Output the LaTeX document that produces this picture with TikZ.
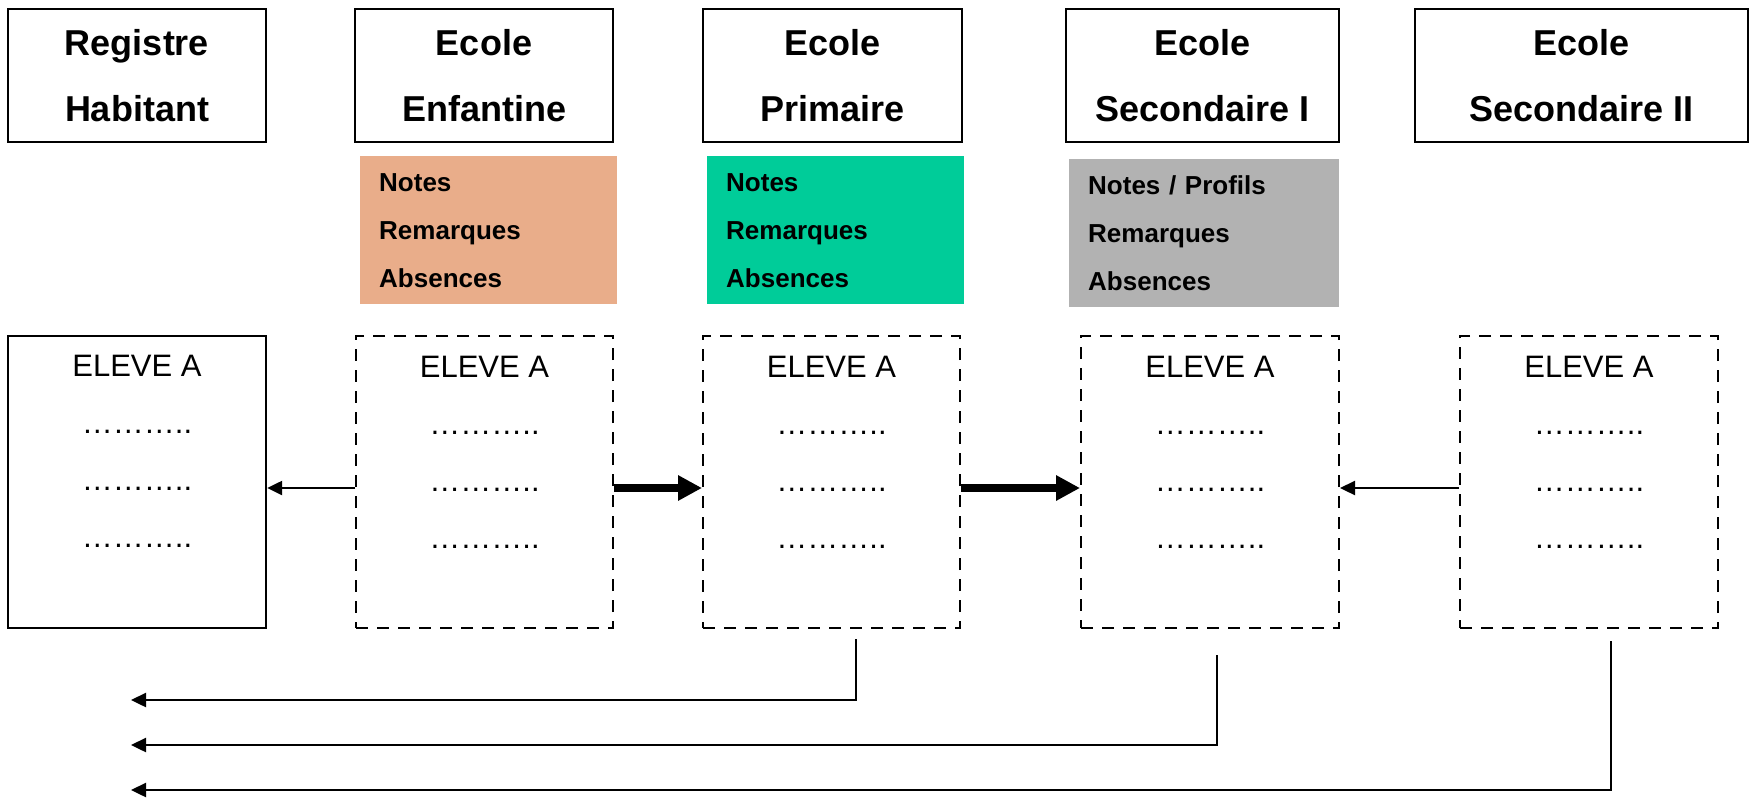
\documentclass[tikz,border=0pt]{standalone}
\usepackage{fontspec}
\setmainfont{Liberation Sans}
\usetikzlibrary{arrows.meta}
\definecolor{peach}{HTML}{E9AD8A}
\definecolor{mint}{HTML}{00CC99}
\definecolor{greybox}{HTML}{B2B2B2}
\begin{document}
\begin{tikzpicture}[x=1pt,y=-1pt,
  titlebox/.style={draw,line width=2.4pt,inner sep=0pt,align=center,
    minimum height=133pt,font=\fontsize{36}{66}\selectfont\bfseries},
  infobox/.style={anchor=north west,inner xsep=19pt,inner ysep=0pt,align=left,
    minimum height=148pt,font=\fontsize{26}{48}\selectfont\bfseries},
  solidbox/.style={draw,line width=2.4pt,inner sep=0pt,minimum height=292pt},
  dashbox/.style={draw,line width=2pt,dash pattern=on 12pt off 9pt,inner sep=0pt,minimum height=292pt},
  eleve/.style={anchor=base,inner sep=0pt,font=\fontsize{31}{31}\selectfont},
  thinarrow/.style={line width=2.4pt,-{Triangle[length=15pt,width=14pt]}},
  thickarrow/.style={line width=8pt,-{Triangle[length=24pt,width=24pt]}}
]
\useasboundingbox (0,0) rectangle (1752,798);

% title boxes
\node[titlebox,minimum width=258pt] (reg) at (137,75.5) {Registre\\Habitant};
\node[titlebox,minimum width=258pt] (enf) at (484,75.5) {Ecole\\Enfantine};
\node[titlebox,minimum width=259pt] (pri) at (832.5,75.5) {Ecole\\Primaire};
\node[titlebox,minimum width=273pt] (sec1) at (1202.5,75.5) {Ecole\\Secondaire I};
\node[titlebox,minimum width=333pt] (sec2) at (1581.5,75.5) {Ecole\\Secondaire II};

% info boxes
\node[infobox,fill=peach,text width=219pt] (enfi) at (360,156) {Notes\\Remarques\\Absences};
\node[infobox,fill=mint,text width=219pt] (prii) at (707,156) {Notes\\Remarques\\Absences};
\node[infobox,fill=greybox,text width=232pt] (sec1i) at (1069,159) {Notes / Profils\\Remarques\\Absences};

% student boxes
\node[solidbox,minimum width=258pt] (regl) at (137,482) {};
\node[dashbox,minimum width=257pt] (enfl) at (484.5,482) {};
\node[dashbox,minimum width=257pt] (pril) at (831.5,482) {};
\node[dashbox,minimum width=258pt] (sec1l) at (1210,482) {};
\node[dashbox,minimum width=258pt] (sec2l) at (1589,482) {};

\foreach \n in {regl,enfl,pril,sec1l,sec2l}{
  \node[eleve] (\n-t) at ([yshift=-42pt]\n.north) {ELEVE A};
  \node[eleve] (\n-d1) at ([yshift=-99pt]\n.north) {………..};
  \node[eleve] (\n-d2) at ([yshift=-156pt]\n.north) {………..};
  \node[eleve] (\n-d3) at ([yshift=-213pt]\n.north) {………..};
}

% horizontal connectors
\draw[thinarrow] ([yshift=-6pt]enfl.west) -- ([yshift=-6pt]regl.east);
\draw[thickarrow] ([yshift=-6pt]enfl.east) -- ([yshift=-6pt]pril.west);
\draw[thickarrow] ([yshift=-6pt]pril.east) -- ([yshift=-6pt]sec1l.west);
\draw[thinarrow] ([yshift=-6pt]sec2l.west) -- ([yshift=-6pt]sec1l.east);

% bottom return arrows
\coordinate (s1) at (856,639);
\coordinate (e1) at (131,700);
\coordinate (s2) at (1217,655);
\coordinate (e2) at (131,745);
\coordinate (s3) at (1611,641);
\coordinate (e3) at (131,790);
\draw[thinarrow] (s1) |- (e1);
\draw[thinarrow] (s2) |- (e2);
\draw[thinarrow] (s3) |- (e3);
\end{tikzpicture}
\end{document}
